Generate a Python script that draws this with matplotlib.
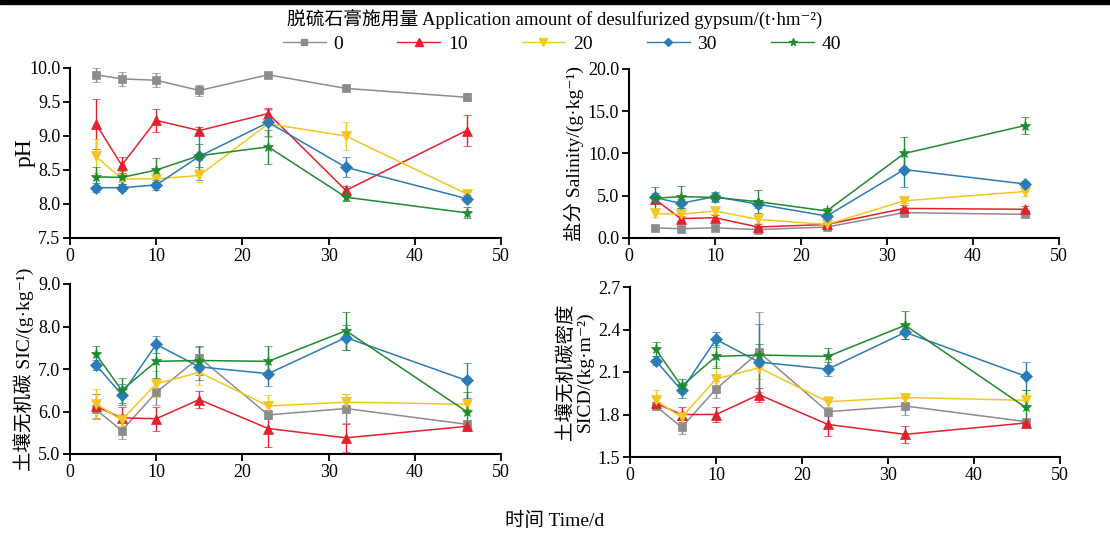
import matplotlib
matplotlib.use("Agg")
import matplotlib.pyplot as plt
from matplotlib.patches import Rectangle
from matplotlib.lines import Line2D
import numpy as np

plt.rcParams['font.family'] = ['Liberation Serif', 'Noto Sans CJK SC', 'DejaVu Sans']

days = [3, 6, 10, 15, 23, 32, 46]
rates = ['0', '10', '20', '30', '40']

ph = {
    '0':  [9.90, 9.84, 9.82, 9.67, 9.90, 9.70, 9.57],
    '10': [9.18, 8.57, 9.23, 9.08, 9.33, 8.20, 9.08],
    '20': [8.70, 8.37, 8.37, 8.42, 9.18, 9.00, 8.15],
    '30': [8.24, 8.24, 8.28, 8.70, 9.20, 8.54, 8.08],
    '40': [8.40, 8.39, 8.50, 8.71, 8.84, 8.10, 7.87],
}
ph_err = {
    '0':  [0.10, 0.10, 0.10, 0.08, 0.03, 0.03, 0.06],
    '10': [0.37, 0.12, 0.17, 0.05, 0.08, 0.06, 0.23],
    '20': [0.25, 0.05, 0.10, 0.10, 0.20, 0.20, 0.05],
    '30': [0.07, 0.05, 0.08, 0.35, 0.20, 0.15, 0.05],
    '40': [0.15, 0.10, 0.18, 0.17, 0.25, 0.05, 0.08],
}
sal = {
    '0':  [1.2, 1.1, 1.2, 1.0, 1.3, 3.0, 2.8],
    '10': [4.6, 2.3, 2.4, 1.3, 1.6, 3.5, 3.4],
    '20': [2.9, 2.8, 3.2, 2.2, 1.6, 4.4, 5.5],
    '30': [4.8, 4.1, 4.9, 4.0, 2.6, 8.1, 6.4],
    '40': [4.7, 4.9, 4.8, 4.3, 3.2, 10.0, 13.3],
}
sal_err = {
    '0':  [0.2, 0.2, 0.2, 0.2, 0.2, 0.2, 0.2],
    '10': [0.3, 0.3, 0.3, 0.3, 0.2, 0.4, 0.4],
    '20': [0.4, 0.3, 0.4, 0.4, 0.2, 0.3, 0.5],
    '30': [0.5, 0.5, 0.5, 0.5, 0.3, 2.1, 0.4],
    '40': [1.3, 1.3, 0.5, 1.4, 0.3, 2.0, 1.0],
}
sic = {
    '0':  [6.05, 5.55, 6.45, 7.27, 5.92, 6.07, 5.70],
    '10': [6.12, 5.85, 5.83, 6.28, 5.60, 5.38, 5.65],
    '20': [6.18, 5.80, 6.65, 6.92, 6.13, 6.22, 6.17],
    '30': [7.10, 6.40, 7.58, 7.05, 6.89, 7.74, 6.73],
    '40': [7.35, 6.50, 7.18, 7.20, 7.18, 7.90, 6.00],
}
sic_err = {
    '0':  [0.20, 0.20, 0.30, 0.25, 0.10, 0.35, 0.10],
    '10': [0.30, 0.25, 0.28, 0.20, 0.43, 0.33, 0.05],
    '20': [0.35, 0.15, 0.30, 0.30, 0.25, 0.20, 0.10],
    '30': [0.12, 0.25, 0.20, 0.30, 0.30, 0.30, 0.42],
    '40': [0.20, 0.30, 0.38, 0.33, 0.35, 0.45, 0.45],
}
sicd = {
    '0':  [1.86, 1.71, 1.98, 2.24, 1.82, 1.86, 1.75],
    '10': [1.88, 1.80, 1.80, 1.94, 1.73, 1.66, 1.74],
    '20': [1.90, 1.78, 2.05, 2.13, 1.89, 1.92, 1.90],
    '30': [2.18, 1.97, 2.33, 2.17, 2.12, 2.38, 2.07],
    '40': [2.26, 2.00, 2.21, 2.22, 2.21, 2.43, 1.85],
}
sicd_err = {
    '0':  [0.03, 0.05, 0.06, 0.28, 0.03, 0.06, 0.02],
    '10': [0.04, 0.05, 0.05, 0.05, 0.08, 0.06, 0.02],
    '20': [0.07, 0.04, 0.09, 0.08, 0.04, 0.03, 0.05],
    '30': [0.03, 0.05, 0.05, 0.27, 0.05, 0.05, 0.10],
    '40': [0.05, 0.05, 0.08, 0.08, 0.06, 0.10, 0.12],
}

colors = {'0': '#8c8c8c', '10': '#e3202c', '20': '#f2c623', '30': '#2a7cb8', '40': '#1f8a2e'}
markers = {'0': 's', '10': '^', '20': 'v', '30': 'D', '40': '*'}
msizes = {'0': 6, '10': 7.5, '20': 7.5, '30': 6, '40': 8}

fig = plt.figure(figsize=(11.1, 5.33), dpi=100)
W, H = 1110, 533

def make_ax(l, r, t, b):
    return fig.add_axes([l / W, 1 - b / H, (r - l) / W, (b - t) / H])

axes = [
    make_ax(70, 501, 68, 238),
    make_ax(629, 1059, 69, 238),
    make_ax(70, 501, 284, 454),
    make_ax(630, 1060, 287, 457),
]
datasets = [(ph, ph_err), (sal, sal_err), (sic, sic_err), (sicd, sicd_err)]
ylims = [(7.5, 10.0, 0.5), (0, 20, 5), (5.0, 9.0, 1.0), (1.5, 2.7, 0.3)]

for ax, (d, e), (lo, hi, st) in zip(axes, datasets, ylims):
    for r in rates:
        ax.errorbar(days, d[r], yerr=e[r], color=colors[r], marker=markers[r],
                    markersize=msizes[r], linewidth=1.1, elinewidth=1.0, capsize=3,
                    capthick=1.0, markeredgewidth=0.5)
    ax.set_xlim(0, 50)
    ax.set_ylim(lo, hi)
    ax.set_xticks([0, 10, 20, 30, 40, 50])
    ticks = np.arange(lo, hi + st / 2, st)
    ax.set_yticks(ticks)
    ax.set_yticklabels(['{:.1f}'.format(t) for t in ticks])
    for s in ['top', 'right']:
        ax.spines[s].set_visible(False)
    for s in ['left', 'bottom']:
        ax.spines[s].set_linewidth(1.5)
    ax.tick_params(direction='out', length=5, width=1.3, labelsize=13, pad=2)

axes[0].set_ylabel('pH', fontsize=17)
axes[0].yaxis.set_label_coords(-0.08, 0.5)
axes[1].set_ylabel('盐分 Salinity/(g·kg⁻¹)', fontsize=14, labelpad=3)
axes[2].set_ylabel('土壤无机碳 SIC/(g·kg⁻¹)', fontsize=14, labelpad=3)
axes[3].set_ylabel('土壤无机碳密度\nSICD/(kg·m⁻²)', fontsize=14, labelpad=3, linespacing=1.1)

fig.text(555 / W, 1 - 20 / H, '脱硫石膏施用量 Application amount of desulfurized gypsum/(t·hm⁻²)',
         ha='center', va='center', fontsize=13.5)
fig.text(555 / W, 1 - 521 / H, '时间 Time/d', ha='center', va='center', fontsize=14)

handles = [Line2D([0], [0], color=colors[r], marker=markers[r], markersize=msizes[r] * 0.7,
                  linewidth=1.0) for r in rates]
fig.legend(handles, rates, loc='center', bbox_to_anchor=(562 / W, 1 - 44 / H), ncol=5,
           frameon=False, fontsize=14, handlelength=2.2, columnspacing=2.8, handletextpad=0.4,
           borderaxespad=0, borderpad=0)

fig.add_artist(Rectangle((0, 1 - 4 / H), 1, 4 / H, transform=fig.transFigure, color='black'))

fig.savefig('out.png', dpi=100)
